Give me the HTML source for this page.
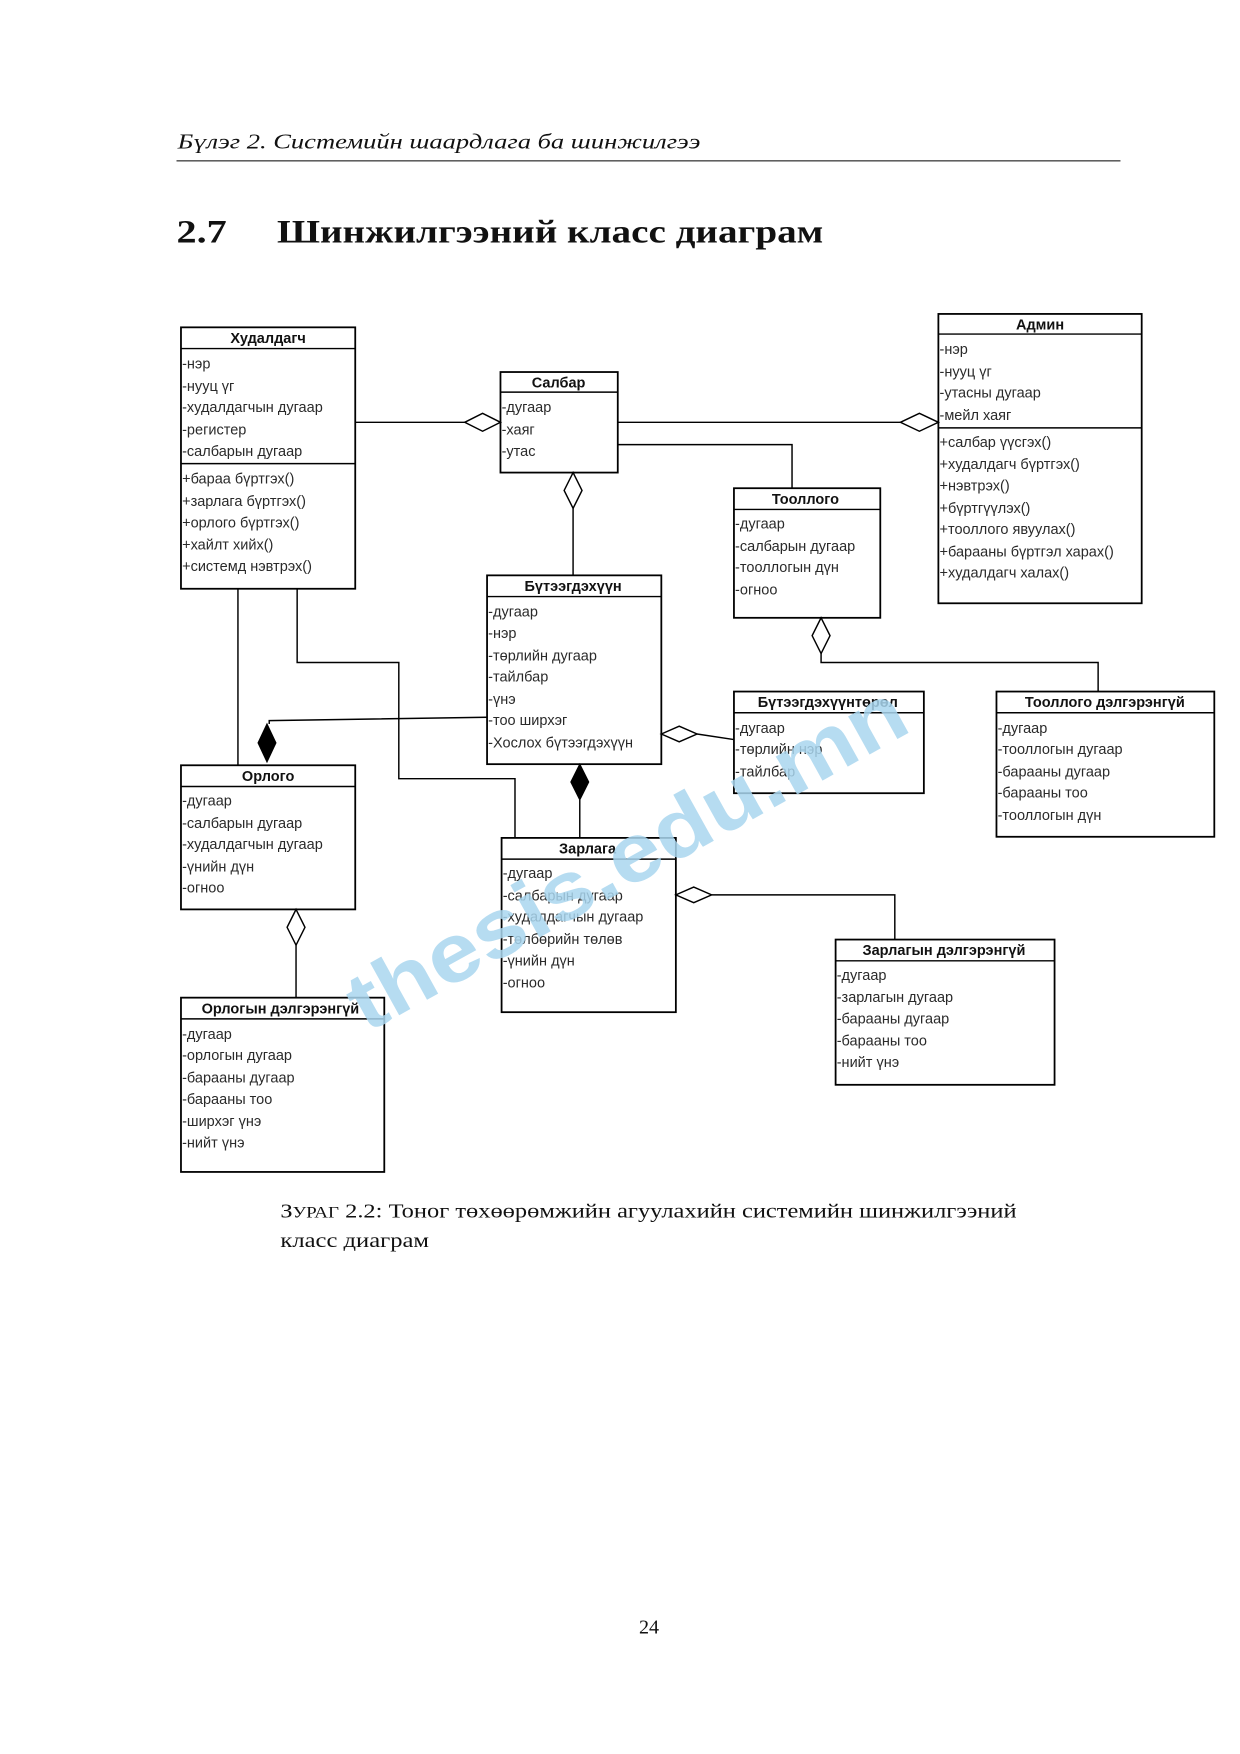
<!DOCTYPE html>
<html><head><meta charset="utf-8"><style>
html,body{margin:0;padding:0;background:#fff}
svg{display:block}
.t{font-family:"Liberation Sans",Arial,sans-serif;font-size:13px;fill:#2a2a2a}
.b{font-family:"Liberation Sans",Arial,sans-serif;font-size:13px;font-weight:bold;fill:#111}
.s{font-family:"Liberation Serif","DejaVu Serif",serif;fill:#111}
rect{fill:none;stroke:#000;stroke-width:1.6}
line,polyline{stroke:#000;stroke-width:1.3;fill:none}
.hd{fill:#fff;stroke:#000;stroke-width:1.3}
.fd{fill:#000;stroke:#000}
</style></head><body>
<svg width="1240" height="1754" viewBox="0 0 1110 1570" preserveAspectRatio="none" xmlns="http://www.w3.org/2000/svg">
<text class="s" x="159" y="133" font-size="19" font-style="italic" textLength="468" lengthAdjust="spacingAndGlyphs">Бүлэг 2.  Системийн шаардлага ба шинжилгээ</text>
<line x1="158" y1="144" x2="1003" y2="144" style="stroke-width:1"/>
<text class="s" x="158" y="217" font-size="29" font-weight="bold" textLength="45" lengthAdjust="spacingAndGlyphs">2.7</text>
<text class="s" x="248" y="217" font-size="29" font-weight="bold" textLength="489" lengthAdjust="spacingAndGlyphs">Шинжилгээний класс диаграм</text>

<!-- connectors -->
<line x1="318" y1="378" x2="416" y2="378"/>
<polygon class="hd" points="416,378 432,370 448,378 432,386"/>
<line x1="553" y1="378" x2="806" y2="378"/>
<polygon class="hd" points="806,378 823,370 840,378 823,386"/>
<polyline points="553,398 709,398 709,437"/>
<polygon class="hd" points="513,423 521,439 513,455 505,439"/>
<line x1="513" y1="455" x2="513" y2="515"/>
<polygon class="hd" points="735,553 743,569 735,585 727,569"/>
<polyline points="735,585 735,593 983,593 983,619"/>
<line x1="213" y1="527" x2="213" y2="685"/>
<polyline points="436,642 241,645 241,648"/>
<polygon class="fd" points="239,648 247,665 239,682 231,665"/>
<polyline points="266,527 266,593 357,593 357,697 461,697 461,750"/>
<polygon class="fd" points="519,684 527,700 519,716 511,700"/>
<line x1="519" y1="716" x2="519" y2="750"/>
<polygon class="hd" points="592,657 608,650 624,657 608,664"/>
<line x1="624" y1="657" x2="657" y2="662"/>
<polygon class="hd" points="605,801 621,794 637,801 621,808"/>
<polyline points="637,801 801,801 801,841"/>
<polygon class="hd" points="265,814 273,830 265,846 257,830"/>
<line x1="265" y1="846" x2="265" y2="893"/>

<!-- Худалдагч -->
<rect x="162" y="293" width="156" height="234"/>
<line x1="162" y1="312" x2="318" y2="312"/><line x1="162" y1="415" x2="318" y2="415"/>
<text class="b" x="240" y="307" text-anchor="middle">Худалдагч</text>
<text class="t" x="163" y="330">-нэр</text><text class="t" x="163" y="350">-нууц үг</text><text class="t" x="163" y="369">-худалдагчын дугаар</text><text class="t" x="163" y="389">-регистер</text><text class="t" x="163" y="408">-салбарын дугаар</text>
<text class="t" x="163" y="433">+бараа бүртгэх()</text><text class="t" x="163" y="453">+зарлага бүртгэх()</text><text class="t" x="163" y="472">+орлого бүртгэх()</text><text class="t" x="163" y="492">+хайлт хийх()</text><text class="t" x="163" y="511">+системд нэвтрэх()</text>

<!-- Салбар -->
<rect x="448" y="333" width="105" height="90"/>
<line x1="448" y1="351" x2="553" y2="351"/>
<text class="b" x="500" y="347" text-anchor="middle">Салбар</text>
<text class="t" x="449" y="369">-дугаар</text><text class="t" x="449" y="389">-хаяг</text><text class="t" x="449" y="408">-утас</text>

<!-- Админ -->
<rect x="840" y="281" width="182" height="259"/>
<line x1="840" y1="299" x2="1022" y2="299"/><line x1="840" y1="383" x2="1022" y2="383"/>
<text class="b" x="931" y="295" text-anchor="middle">Админ</text>
<text class="t" x="841" y="317">-нэр</text><text class="t" x="841" y="337">-нууц үг</text><text class="t" x="841" y="356">-утасны дугаар</text><text class="t" x="841" y="376">-мейл хаяг</text>
<text class="t" x="841" y="400">+салбар үүсгэх()</text><text class="t" x="841" y="420">+худалдагч бүртгэх()</text><text class="t" x="841" y="439">+нэвтрэх()</text><text class="t" x="841" y="459">+бүртгүүлэх()</text><text class="t" x="841" y="478">+тооллого явуулах()</text><text class="t" x="841" y="498">+барааны бүртгэл харах()</text><text class="t" x="841" y="517">+худалдагч халах()</text>

<!-- Тооллого -->
<rect x="657" y="437" width="131" height="116"/>
<line x1="657" y1="456" x2="788" y2="456"/>
<text class="b" x="721" y="451" text-anchor="middle">Тооллого</text>
<text class="t" x="658" y="473">-дугаар</text><text class="t" x="658" y="493">-салбарын дугаар</text><text class="t" x="658" y="512">-тооллогын дүн</text><text class="t" x="658" y="532">-огноо</text>

<!-- Бүтээгдэхүүн -->
<rect x="436" y="515" width="156" height="169"/>
<line x1="436" y1="534" x2="592" y2="534"/>
<text class="b" x="513" y="529" text-anchor="middle">Бүтээгдэхүүн</text>
<text class="t" x="437" y="552">-дугаар</text><text class="t" x="437" y="571">-нэр</text><text class="t" x="437" y="591">-төрлийн дугаар</text><text class="t" x="437" y="610">-тайлбар</text><text class="t" x="437" y="630">-үнэ</text><text class="t" x="437" y="649">-тоо ширхэг</text><text class="t" x="437" y="669">-Хослох бүтээгдэхүүн</text>

<!-- Бүтээгдэхүүнтөрөл -->
<rect x="657" y="619" width="170" height="91"/>
<line x1="657" y1="638" x2="827" y2="638"/>
<text class="b" x="741" y="633" text-anchor="middle">Бүтээгдэхүүнтөрөл</text>
<text class="t" x="658" y="656">-дугаар</text><text class="t" x="658" y="675">-төрлийн нэр</text><text class="t" x="658" y="695">-тайлбар</text>

<!-- Тооллого дэлгэрэнгүй -->
<rect x="892" y="619" width="195" height="130"/>
<line x1="892" y1="638" x2="1087" y2="638"/>
<text class="b" x="989" y="633" text-anchor="middle">Тооллого дэлгэрэнгүй</text>
<text class="t" x="893" y="656">-дугаар</text><text class="t" x="893" y="675">-тооллогын дугаар</text><text class="t" x="893" y="695">-барааны дугаар</text><text class="t" x="893" y="714">-барааны тоо</text><text class="t" x="893" y="734">-тооллогын дүн</text>

<!-- Орлого -->
<rect x="162" y="685" width="156" height="129"/>
<line x1="162" y1="704" x2="318" y2="704"/>
<text class="b" x="240" y="699" text-anchor="middle">Орлого</text>
<text class="t" x="163" y="721">-дугаар</text><text class="t" x="163" y="741">-салбарын дугаар</text><text class="t" x="163" y="760">-худалдагчын дугаар</text><text class="t" x="163" y="780">-үнийн дүн</text><text class="t" x="163" y="799">-огноо</text>

<!-- Зарлага -->
<rect x="449" y="750" width="156" height="156"/>
<line x1="449" y1="769" x2="605" y2="769"/>
<text class="b" x="526" y="764" text-anchor="middle">Зарлага</text>
<text class="t" x="450" y="786">-дугаар</text><text class="t" x="450" y="806">-салбарын дугаар</text><text class="t" x="450" y="825">-худалдагчын дугаар</text><text class="t" x="450" y="845">-төлбөрийн төлөв</text><text class="t" x="450" y="864">-үнийн дүн</text><text class="t" x="450" y="884">-огноо</text>

<!-- Зарлагын дэлгэрэнгүй -->
<rect x="748" y="841" width="196" height="130"/>
<line x1="748" y1="860" x2="944" y2="860"/>
<text class="b" x="845" y="855" text-anchor="middle">Зарлагын дэлгэрэнгүй</text>
<text class="t" x="749" y="877">-дугаар</text><text class="t" x="749" y="897">-зарлагын дугаар</text><text class="t" x="749" y="916">-барааны дугаар</text><text class="t" x="749" y="936">-барааны тоо</text><text class="t" x="749" y="955">-нийт үнэ</text>

<!-- Орлогын дэлгэрэнгүй -->
<rect x="162" y="893" width="182" height="156"/>
<line x1="162" y1="912" x2="344" y2="912"/>
<text class="b" x="251" y="907" text-anchor="middle">Орлогын дэлгэрэнгүй</text>
<text class="t" x="163" y="930">-дугаар</text><text class="t" x="163" y="949">-орлогын дугаар</text><text class="t" x="163" y="969">-барааны дугаар</text><text class="t" x="163" y="988">-барааны тоо</text><text class="t" x="163" y="1008">-ширхэг үнэ</text><text class="t" x="163" y="1027">-нийт үнэ</text>

<!-- watermark -->
<text x="0" y="0" transform="translate(328,925) rotate(-29)" font-family="Liberation Sans,Arial,sans-serif" font-weight="bold" font-size="74" fill="#a9d6ef" fill-opacity="0.85" textLength="560" lengthAdjust="spacingAndGlyphs">thesis.edu.mn</text>

<text class="s" x="251" y="1090" font-size="18" textLength="659" lengthAdjust="spacingAndGlyphs">З<tspan font-size="14">УРАГ</tspan> 2.2: Тоног төхөөрөмжийн агуулахийн системийн шинжилгээний</text>
<text class="s" x="251" y="1116" font-size="18" textLength="133" lengthAdjust="spacingAndGlyphs">класс диаграм</text>
<text class="s" x="581" y="1462" font-size="18" text-anchor="middle">24</text>
</svg>
</body></html>
